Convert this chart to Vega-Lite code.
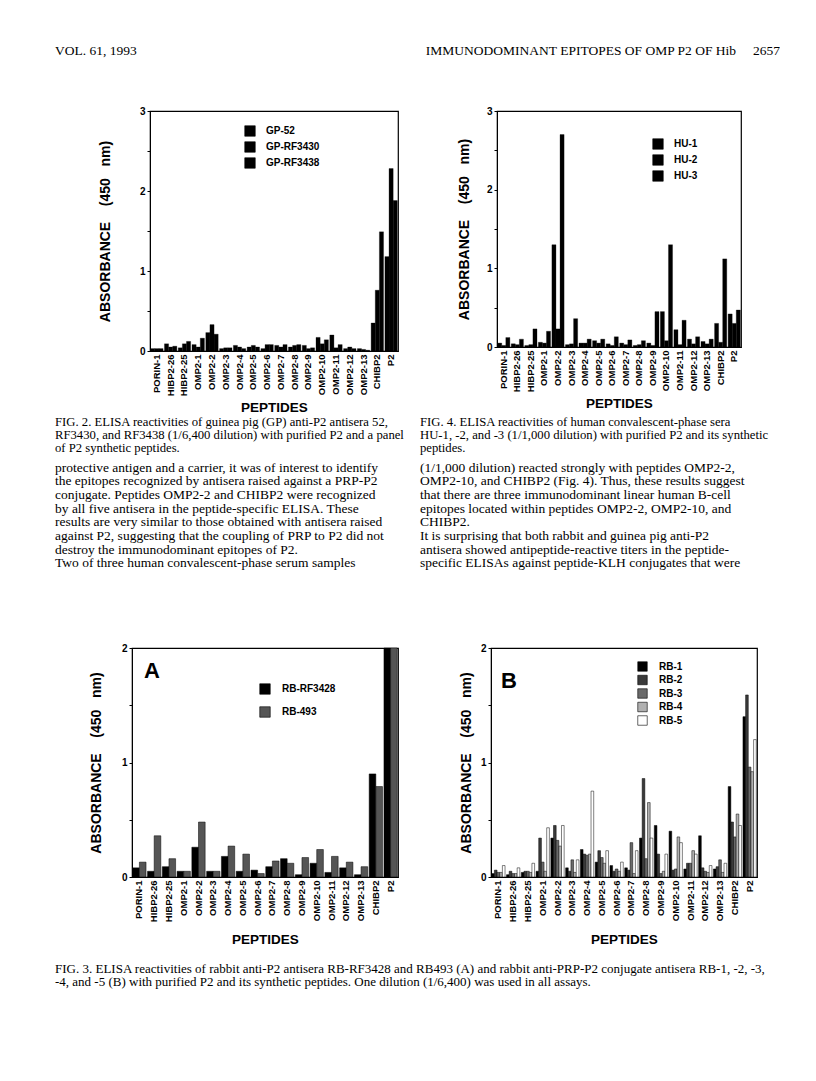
{
"$schema": "https://vega.github.io/schema/vega-lite/v6.json",
"padding": {"left": 55, "top": 43, "right": 0, "bottom": 0},
"background": "white",
"config": {
  "view": {"stroke": null},
  "font": "Liberation Sans",
  "axis": {"labelFont": "Liberation Sans", "titleFont": "Liberation Sans", "labelFontWeight": "bold", "titleFontWeight": "bold", "labelColor": "black", "titleColor": "black", "domainColor": "black", "tickColor": "black", "grid": false, "labelOverlap": false},
  "legend": {"labelFont": "Liberation Sans", "labelFontWeight": "bold", "labelColor": "black", "labelFontSize": 10, "title": null, "symbolType": "square", "symbolStrokeColor": "black", "symbolStrokeWidth": 0.6, "padding": 0},
  "title": {"font": "Liberation Serif", "fontWeight": "normal", "color": "black", "anchor": "start", "frame": "group", "offset": 0}
},
"datasets": {
  "fig2": [
    {"p":"PORIN-1","s":"GP-52","v":0.03},{"p":"PORIN-1","s":"GP-RF3430","v":0.03},{"p":"PORIN-1","s":"GP-RF3438","v":0.03},
    {"p":"HIBP2-26","s":"GP-52","v":0.09},{"p":"HIBP2-26","s":"GP-RF3430","v":0.05},{"p":"HIBP2-26","s":"GP-RF3438","v":0.06},
    {"p":"HIBP2-25","s":"GP-52","v":0.04},{"p":"HIBP2-25","s":"GP-RF3430","v":0.09},{"p":"HIBP2-25","s":"GP-RF3438","v":0.12},
    {"p":"OMP2-1","s":"GP-52","v":0.08},{"p":"OMP2-1","s":"GP-RF3430","v":0.05},{"p":"OMP2-1","s":"GP-RF3438","v":0.16},
    {"p":"OMP2-2","s":"GP-52","v":0.23},{"p":"OMP2-2","s":"GP-RF3430","v":0.33},{"p":"OMP2-2","s":"GP-RF3438","v":0.21},
    {"p":"OMP2-3","s":"GP-52","v":0.03},{"p":"OMP2-3","s":"GP-RF3430","v":0.04},{"p":"OMP2-3","s":"GP-RF3438","v":0.04},
    {"p":"OMP2-4","s":"GP-52","v":0.07},{"p":"OMP2-4","s":"GP-RF3430","v":0.05},{"p":"OMP2-4","s":"GP-RF3438","v":0.03},
    {"p":"OMP2-5","s":"GP-52","v":0.05},{"p":"OMP2-5","s":"GP-RF3430","v":0.07},{"p":"OMP2-5","s":"GP-RF3438","v":0.05},
    {"p":"OMP2-6","s":"GP-52","v":0.03},{"p":"OMP2-6","s":"GP-RF3430","v":0.08},{"p":"OMP2-6","s":"GP-RF3438","v":0.08},
    {"p":"OMP2-7","s":"GP-52","v":0.07},{"p":"OMP2-7","s":"GP-RF3430","v":0.05},{"p":"OMP2-7","s":"GP-RF3438","v":0.08},
    {"p":"OMP2-8","s":"GP-52","v":0.05},{"p":"OMP2-8","s":"GP-RF3430","v":0.07},{"p":"OMP2-8","s":"GP-RF3438","v":0.08},
    {"p":"OMP2-9","s":"GP-52","v":0.07},{"p":"OMP2-9","s":"GP-RF3430","v":0.03},{"p":"OMP2-9","s":"GP-RF3438","v":0.04},
    {"p":"OMP2-10","s":"GP-52","v":0.17},{"p":"OMP2-10","s":"GP-RF3430","v":0.09},{"p":"OMP2-10","s":"GP-RF3438","v":0.14},
    {"p":"OMP2-11","s":"GP-52","v":0.20},{"p":"OMP2-11","s":"GP-RF3430","v":0.04},{"p":"OMP2-11","s":"GP-RF3438","v":0.08},
    {"p":"OMP2-12","s":"GP-52","v":0.03},{"p":"OMP2-12","s":"GP-RF3430","v":0.05},{"p":"OMP2-12","s":"GP-RF3438","v":0.03},
    {"p":"OMP2-13","s":"GP-52","v":0.03},{"p":"OMP2-13","s":"GP-RF3430","v":0.02},{"p":"OMP2-13","s":"GP-RF3438","v":0.01},
    {"p":"CHIBP2","s":"GP-52","v":0.35},{"p":"CHIBP2","s":"GP-RF3430","v":0.76},{"p":"CHIBP2","s":"GP-RF3438","v":1.49},
    {"p":"P2","s":"GP-52","v":1.18},{"p":"P2","s":"GP-RF3430","v":2.28},{"p":"P2","s":"GP-RF3438","v":1.88}
  ],
  "fig4": [
    {"p":"PORIN-1","s":"HU-1","v":0.05},{"p":"PORIN-1","s":"HU-2","v":0.02},{"p":"PORIN-1","s":"HU-3","v":0.12},
    {"p":"HIBP2-26","s":"HU-1","v":0.04},{"p":"HIBP2-26","s":"HU-2","v":0.03},{"p":"HIBP2-26","s":"HU-3","v":0.10},
    {"p":"HIBP2-25","s":"HU-1","v":0.02},{"p":"HIBP2-25","s":"HU-2","v":0.03},{"p":"HIBP2-25","s":"HU-3","v":0.23},
    {"p":"OMP2-1","s":"HU-1","v":0.06},{"p":"OMP2-1","s":"HU-2","v":0.05},{"p":"OMP2-1","s":"HU-3","v":0.20},
    {"p":"OMP2-2","s":"HU-1","v":1.30},{"p":"OMP2-2","s":"HU-2","v":0.23},{"p":"OMP2-2","s":"HU-3","v":2.70},
    {"p":"OMP2-3","s":"HU-1","v":0.03},{"p":"OMP2-3","s":"HU-2","v":0.04},{"p":"OMP2-3","s":"HU-3","v":0.36},
    {"p":"OMP2-4","s":"HU-1","v":0.05},{"p":"OMP2-4","s":"HU-2","v":0.05},{"p":"OMP2-4","s":"HU-3","v":0.10},
    {"p":"OMP2-5","s":"HU-1","v":0.08},{"p":"OMP2-5","s":"HU-2","v":0.05},{"p":"OMP2-5","s":"HU-3","v":0.10},
    {"p":"OMP2-6","s":"HU-1","v":0.04},{"p":"OMP2-6","s":"HU-2","v":0.02},{"p":"OMP2-6","s":"HU-3","v":0.13},
    {"p":"OMP2-7","s":"HU-1","v":0.05},{"p":"OMP2-7","s":"HU-2","v":0.03},{"p":"OMP2-7","s":"HU-3","v":0.09},
    {"p":"OMP2-8","s":"HU-1","v":0.02},{"p":"OMP2-8","s":"HU-2","v":0.03},{"p":"OMP2-8","s":"HU-3","v":0.08},
    {"p":"OMP2-9","s":"HU-1","v":0.05},{"p":"OMP2-9","s":"HU-2","v":0.02},{"p":"OMP2-9","s":"HU-3","v":0.45},
    {"p":"OMP2-10","s":"HU-1","v":0.45},{"p":"OMP2-10","s":"HU-2","v":0.08},{"p":"OMP2-10","s":"HU-3","v":1.30},
    {"p":"OMP2-11","s":"HU-1","v":0.22},{"p":"OMP2-11","s":"HU-2","v":0.03},{"p":"OMP2-11","s":"HU-3","v":0.34},
    {"p":"OMP2-12","s":"HU-1","v":0.10},{"p":"OMP2-12","s":"HU-2","v":0.04},{"p":"OMP2-12","s":"HU-3","v":0.13},
    {"p":"OMP2-13","s":"HU-1","v":0.07},{"p":"OMP2-13","s":"HU-2","v":0.04},{"p":"OMP2-13","s":"HU-3","v":0.10},
    {"p":"CHIBP2","s":"HU-1","v":0.30},{"p":"CHIBP2","s":"HU-2","v":0.06},{"p":"CHIBP2","s":"HU-3","v":1.12},
    {"p":"P2","s":"HU-1","v":0.42},{"p":"P2","s":"HU-2","v":0.30},{"p":"P2","s":"HU-3","v":0.47}
  ],
  "fig3a": [
    {"p":"PORIN-1","s":"RB-RF3428","v":0.08},{"p":"PORIN-1","s":"RB-493","v":0.13},
    {"p":"HIBP2-26","s":"RB-RF3428","v":0.05},{"p":"HIBP2-26","s":"RB-493","v":0.36},
    {"p":"HIBP2-25","s":"RB-RF3428","v":0.09},{"p":"HIBP2-25","s":"RB-493","v":0.16},
    {"p":"OMP2-1","s":"RB-RF3428","v":0.05},{"p":"OMP2-1","s":"RB-493","v":0.05},
    {"p":"OMP2-2","s":"RB-RF3428","v":0.26},{"p":"OMP2-2","s":"RB-493","v":0.48},
    {"p":"OMP2-3","s":"RB-RF3428","v":0.05},{"p":"OMP2-3","s":"RB-493","v":0.05},
    {"p":"OMP2-4","s":"RB-RF3428","v":0.18},{"p":"OMP2-4","s":"RB-493","v":0.27},
    {"p":"OMP2-5","s":"RB-RF3428","v":0.05},{"p":"OMP2-5","s":"RB-493","v":0.20},
    {"p":"OMP2-6","s":"RB-RF3428","v":0.06},{"p":"OMP2-6","s":"RB-493","v":0.03},
    {"p":"OMP2-7","s":"RB-RF3428","v":0.09},{"p":"OMP2-7","s":"RB-493","v":0.14},
    {"p":"OMP2-8","s":"RB-RF3428","v":0.16},{"p":"OMP2-8","s":"RB-493","v":0.12},
    {"p":"OMP2-9","s":"RB-RF3428","v":0.02},{"p":"OMP2-9","s":"RB-493","v":0.17},
    {"p":"OMP2-10","s":"RB-RF3428","v":0.12},{"p":"OMP2-10","s":"RB-493","v":0.24},
    {"p":"OMP2-11","s":"RB-RF3428","v":0.04},{"p":"OMP2-11","s":"RB-493","v":0.18},
    {"p":"OMP2-12","s":"RB-RF3428","v":0.08},{"p":"OMP2-12","s":"RB-493","v":0.13},
    {"p":"OMP2-13","s":"RB-RF3428","v":0.02},{"p":"OMP2-13","s":"RB-493","v":0.09},
    {"p":"CHIBP2","s":"RB-RF3428","v":0.90},{"p":"CHIBP2","s":"RB-493","v":0.79},
    {"p":"P2","s":"RB-RF3428","v":2.2},{"p":"P2","s":"RB-493","v":2.2}
  ],
  "fig3b": [
    {"p":"PORIN-1","s":"RB-1","v":0.03},{"p":"PORIN-1","s":"RB-2","v":0.06},{"p":"PORIN-1","s":"RB-3","v":0.04},{"p":"PORIN-1","s":"RB-4","v":0.04},{"p":"PORIN-1","s":"RB-5","v":0.10},
    {"p":"HIBP2-26","s":"RB-1","v":0.02},{"p":"HIBP2-26","s":"RB-2","v":0.05},{"p":"HIBP2-26","s":"RB-3","v":0.03},{"p":"HIBP2-26","s":"RB-4","v":0.03},{"p":"HIBP2-26","s":"RB-5","v":0.08},
    {"p":"HIBP2-25","s":"RB-1","v":0.04},{"p":"HIBP2-25","s":"RB-2","v":0.05},{"p":"HIBP2-25","s":"RB-3","v":0.05},{"p":"HIBP2-25","s":"RB-4","v":0.04},{"p":"HIBP2-25","s":"RB-5","v":0.12},
    {"p":"OMP2-1","s":"RB-1","v":0.05},{"p":"OMP2-1","s":"RB-2","v":0.34},{"p":"OMP2-1","s":"RB-3","v":0.13},{"p":"OMP2-1","s":"RB-4","v":0.05},{"p":"OMP2-1","s":"RB-5","v":0.43},
    {"p":"OMP2-2","s":"RB-1","v":0.34},{"p":"OMP2-2","s":"RB-2","v":0.45},{"p":"OMP2-2","s":"RB-3","v":0.32},{"p":"OMP2-2","s":"RB-4","v":0.27},{"p":"OMP2-2","s":"RB-5","v":0.45},
    {"p":"OMP2-3","s":"RB-1","v":0.08},{"p":"OMP2-3","s":"RB-2","v":0.05},{"p":"OMP2-3","s":"RB-3","v":0.15},{"p":"OMP2-3","s":"RB-4","v":0.04},{"p":"OMP2-3","s":"RB-5","v":0.15},
    {"p":"OMP2-4","s":"RB-1","v":0.24},{"p":"OMP2-4","s":"RB-2","v":0.20},{"p":"OMP2-4","s":"RB-3","v":0.19},{"p":"OMP2-4","s":"RB-4","v":0.20},{"p":"OMP2-4","s":"RB-5","v":0.75},
    {"p":"OMP2-5","s":"RB-1","v":0.13},{"p":"OMP2-5","s":"RB-2","v":0.23},{"p":"OMP2-5","s":"RB-3","v":0.17},{"p":"OMP2-5","s":"RB-4","v":0.12},{"p":"OMP2-5","s":"RB-5","v":0.23},
    {"p":"OMP2-6","s":"RB-1","v":0.10},{"p":"OMP2-6","s":"RB-2","v":0.05},{"p":"OMP2-6","s":"RB-3","v":0.07},{"p":"OMP2-6","s":"RB-4","v":0.05},{"p":"OMP2-6","s":"RB-5","v":0.13},
    {"p":"OMP2-7","s":"RB-1","v":0.08},{"p":"OMP2-7","s":"RB-2","v":0.06},{"p":"OMP2-7","s":"RB-3","v":0.30},{"p":"OMP2-7","s":"RB-4","v":0.03},{"p":"OMP2-7","s":"RB-5","v":0.23},
    {"p":"OMP2-8","s":"RB-1","v":0.34},{"p":"OMP2-8","s":"RB-2","v":0.86},{"p":"OMP2-8","s":"RB-3","v":0.16},{"p":"OMP2-8","s":"RB-4","v":0.65},{"p":"OMP2-8","s":"RB-5","v":0.34},
    {"p":"OMP2-9","s":"RB-1","v":0.45},{"p":"OMP2-9","s":"RB-2","v":0.20},{"p":"OMP2-9","s":"RB-3","v":0.03},{"p":"OMP2-9","s":"RB-4","v":0.05},{"p":"OMP2-9","s":"RB-5","v":0.20},
    {"p":"OMP2-10","s":"RB-1","v":0.40},{"p":"OMP2-10","s":"RB-2","v":0.06},{"p":"OMP2-10","s":"RB-3","v":0.07},{"p":"OMP2-10","s":"RB-4","v":0.35},{"p":"OMP2-10","s":"RB-5","v":0.30},
    {"p":"OMP2-11","s":"RB-1","v":0.07},{"p":"OMP2-11","s":"RB-2","v":0.12},{"p":"OMP2-11","s":"RB-3","v":0.12},{"p":"OMP2-11","s":"RB-4","v":0.23},{"p":"OMP2-11","s":"RB-5","v":0.20},
    {"p":"OMP2-12","s":"RB-1","v":0.36},{"p":"OMP2-12","s":"RB-2","v":0.08},{"p":"OMP2-12","s":"RB-3","v":0.05},{"p":"OMP2-12","s":"RB-4","v":0.04},{"p":"OMP2-12","s":"RB-5","v":0.10},
    {"p":"OMP2-13","s":"RB-1","v":0.07},{"p":"OMP2-13","s":"RB-2","v":0.09},{"p":"OMP2-13","s":"RB-3","v":0.15},{"p":"OMP2-13","s":"RB-4","v":0.04},{"p":"OMP2-13","s":"RB-5","v":0.12},
    {"p":"CHIBP2","s":"RB-1","v":0.79},{"p":"CHIBP2","s":"RB-2","v":0.48},{"p":"CHIBP2","s":"RB-3","v":0.35},{"p":"CHIBP2","s":"RB-4","v":0.55},{"p":"CHIBP2","s":"RB-5","v":0.45},
    {"p":"P2","s":"RB-1","v":1.40},{"p":"P2","s":"RB-2","v":1.59},{"p":"P2","s":"RB-3","v":0.96},{"p":"P2","s":"RB-4","v":0.92},{"p":"P2","s":"RB-5","v":1.20}
  ]
},
"resolve": {"scale": {"x": "independent", "y": "independent", "xOffset": "independent", "color": "independent"}, "legend": {"color": "independent"}},
"spacing": 0,
"vconcat": [
  {
    "hconcat": [
      {"width": 365, "height": 44, "data": {"values": [{}]}, "mark": {"type": "text", "text": ""},
       "title": {"text": "VOL. 61, 1993", "fontSize": 13.5, "anchor": "start"}},
      {"width": 360, "height": 44, "data": {"values": [{}]}, "mark": {"type": "text", "text": ""},
       "title": {"text": "IMMUNODOMINANT EPITOPES OF OMP P2 OF Hib\u00a0\u00a0\u00a0\u00a0\u00a02657", "fontSize": 13.5, "anchor": "end"}}
    ],
    "spacing": 0
  },
  {
    "resolve": {"scale": {"x": "independent", "y": "independent", "xOffset": "independent", "color": "independent"}, "legend": {"color": "independent"}},
    "spacing": 0,
    "hconcat": [
      {"width": 42, "height": 10, "data": {"values": [{}]}, "mark": {"type": "text", "text": ""}},
      {
        "width": 248, "height": 240,
        "view": {"stroke": "black", "strokeWidth": 1.2},
        "data": {"name": "fig2"},
        "mark": {"type": "bar", "stroke": "black", "strokeWidth": 0.3},
        "encoding": {
          "x": {"field": "p", "type": "nominal",
                "sort": ["PORIN-1","HIBP2-26","HIBP2-25","OMP2-1","OMP2-2","OMP2-3","OMP2-4","OMP2-5","OMP2-6","OMP2-7","OMP2-8","OMP2-9","OMP2-10","OMP2-11","OMP2-12","OMP2-13","CHIBP2","P2"],
                "scale": {"paddingInner": 0.1, "paddingOuter": 0.05},
                "axis": {"title": "PEPTIDES", "labelAngle": -90, "ticks": false, "labelPadding": 3, "titlePadding": 5, "labelFontSize": 9.5, "titleFontSize": 13.5}},
          "xOffset": {"field": "s", "type": "nominal", "sort": ["GP-52","GP-RF3430","GP-RF3438"]},
          "y": {"field": "v", "type": "quantitative", "scale": {"domain": [0, 3], "nice": false},
                "axis": {"values": [0,0.5,1,1.5,2,2.5,3], "labelExpr": "datum.value % 1 == 0 ? '' + datum.value : ''",
                         "title": "ABSORBANCE\u00a0\u00a0\u00a0\u00a0(450\u00a0\u00a0\u00a0nm)", "titleFontSize": 14, "titlePadding": 27,
                         "labelFontSize": 10, "tickSize": 3, "labelPadding": 2}},
          "color": {"field": "s", "type": "nominal", "sort": ["GP-52","GP-RF3430","GP-RF3438"],
                    "scale": {"domain": ["GP-52","GP-RF3430","GP-RF3438"], "range": ["#000000","#000000","#000000"]},
                    "legend": {"orient": "none", "legendX": 94, "legendY": 14, "symbolSize": 110, "labelOffset": 10, "rowPadding": 2}}
        }
      },
      {"width": 57, "height": 10, "data": {"values": [{}]}, "mark": {"type": "text", "text": ""}},
      {
        "width": 244, "height": 236,
        "view": {"stroke": "black", "strokeWidth": 1.2},
        "data": {"name": "fig4"},
        "mark": {"type": "bar", "stroke": "black", "strokeWidth": 0.3},
        "encoding": {
          "x": {"field": "p", "type": "nominal",
                "sort": ["PORIN-1","HIBP2-26","HIBP2-25","OMP2-1","OMP2-2","OMP2-3","OMP2-4","OMP2-5","OMP2-6","OMP2-7","OMP2-8","OMP2-9","OMP2-10","OMP2-11","OMP2-12","OMP2-13","CHIBP2","P2"],
                "scale": {"paddingInner": 0.1, "paddingOuter": 0.05},
                "axis": {"title": "PEPTIDES", "labelAngle": -90, "ticks": false, "labelPadding": 3, "titlePadding": 5, "labelFontSize": 9.5, "titleFontSize": 13.5}},
          "xOffset": {"field": "s", "type": "nominal", "sort": ["HU-1","HU-2","HU-3"]},
          "y": {"field": "v", "type": "quantitative", "scale": {"domain": [0, 3], "nice": false},
                "axis": {"values": [0,0.5,1,1.5,2,2.5,3], "labelExpr": "datum.value % 1 == 0 ? '' + datum.value : ''",
                         "title": "ABSORBANCE\u00a0\u00a0\u00a0\u00a0(450\u00a0\u00a0\u00a0nm)", "titleFontSize": 14, "titlePadding": 15,
                         "labelFontSize": 10, "tickSize": 3, "labelPadding": 2}},
          "color": {"field": "s", "type": "nominal", "sort": ["HU-1","HU-2","HU-3"],
                    "scale": {"domain": ["HU-1","HU-2","HU-3"], "range": ["#000000","#000000","#000000"]},
                    "legend": {"orient": "none", "legendX": 155, "legendY": 27, "symbolSize": 110, "labelOffset": 10, "rowPadding": 2}}
        }
      }
    ]
  },
  {
    "spacing": -10,
    "vconcat": [
      {
        "hconcat": [
          {"width": 365, "height": 1, "data": {"values": [{}]}, "mark": {"type": "text", "text": ""},
           "title": {"text": ["\u00a0\u00a0\u00a0\u00a0\u00a0FIG. 2. ELISA reactivities of guinea pig (GP) anti-P2 antisera 52,", "RF3430, and RF3438 (1/6,400 dilution) with purified P2 and a panel", "of P2 synthetic peptides."], "fontSize": 12.7, "lineHeight": 13}},
          {"width": 360, "height": 1, "data": {"values": [{}]}, "mark": {"type": "text", "text": ""},
           "title": {"text": ["\u00a0\u00a0\u00a0\u00a0\u00a0FIG. 4. ELISA reactivities of human convalescent-phase sera", "HU-1, -2, and -3 (1/1,000 dilution) with purified P2 and its synthetic", "peptides."], "fontSize": 12.7, "lineHeight": 13}}
        ],
        "spacing": 0
      },
      {
        "hconcat": [
          {"width": 365, "height": 68, "data": {"values": [{}]}, "mark": {"type": "text", "text": ""},
           "title": {"text": ["protective antigen and a carrier, it was of interest to identify", "the epitopes recognized by antisera raised against a PRP-P2", "conjugate. Peptides OMP2-2 and CHIBP2 were recognized", "by all five antisera in the peptide-specific ELISA. These", "results are very similar to those obtained with antisera raised", "against P2, suggesting that the coupling of PRP to P2 did not", "destroy the immunodominant epitopes of P2.", "\u00a0\u00a0\u00a0Two of three human convalescent-phase serum samples"], "fontSize": 13.5, "lineHeight": 13.7}},
          {"width": 360, "height": 68, "data": {"values": [{}]}, "mark": {"type": "text", "text": ""},
           "title": {"text": ["(1/1,000 dilution) reacted strongly with peptides OMP2-2,", "OMP2-10, and CHIBP2 (Fig. 4). Thus, these results suggest", "that there are three immunodominant linear human B-cell", "epitopes located within peptides OMP2-2, OMP2-10, and", "CHIBP2.", "\u00a0\u00a0\u00a0It is surprising that both rabbit and guinea pig anti-P2", "antisera showed antipeptide-reactive titers in the peptide-", "specific ELISAs against peptide-KLH conjugates that were"], "fontSize": 13.5, "lineHeight": 13.7}}
        ],
        "spacing": 0
      }
    ]
  },
  {
    "resolve": {"scale": {"x": "independent", "y": "independent", "xOffset": "independent", "color": "independent"}, "legend": {"color": "independent"}},
    "spacing": 0,
    "hconcat": [
      {"width": 33, "height": 10, "data": {"values": [{}]}, "mark": {"type": "text", "text": ""}},
      {
        "width": 266, "height": 229,
        "view": {"stroke": "black", "strokeWidth": 1.2},
        "title": {"text": "A", "orient": "top", "anchor": "start", "frame": "group", "offset": -29, "dy": 28, "dx": 12, "fontSize": 22, "fontWeight": "bold", "font": "Liberation Sans", "baseline": "alphabetic"},
        "data": {"name": "fig3a"},
        "mark": {"type": "bar", "stroke": "black", "strokeWidth": 0.5},
        "encoding": {
          "x": {"field": "p", "type": "nominal",
                "sort": ["PORIN-1","HIBP2-26","HIBP2-25","OMP2-1","OMP2-2","OMP2-3","OMP2-4","OMP2-5","OMP2-6","OMP2-7","OMP2-8","OMP2-9","OMP2-10","OMP2-11","OMP2-12","OMP2-13","CHIBP2","P2"],
                "scale": {"paddingInner": 0.1, "paddingOuter": 0.05},
                "axis": {"title": "PEPTIDES", "labelAngle": -90, "ticks": false, "labelPadding": 3, "titlePadding": 11, "labelFontSize": 9.5, "titleFontSize": 13.5}},
          "xOffset": {"field": "s", "type": "nominal", "sort": ["RB-RF3428","RB-493"]},
          "y": {"field": "v", "type": "quantitative", "scale": {"domain": [0, 2], "nice": false, "clamp": true},
                "axis": {"values": [0,0.5,1,1.5,2], "labelExpr": "datum.value % 1 == 0 ? '' + datum.value : ''",
                         "title": "ABSORBANCE\u00a0\u00a0\u00a0\u00a0(450\u00a0\u00a0\u00a0nm)", "titleFontSize": 14, "titlePadding": 18,
                         "labelFontSize": 10, "tickSize": 3, "labelPadding": 2}},
          "color": {"field": "s", "type": "nominal", "sort": ["RB-RF3428","RB-493"],
                    "scale": {"domain": ["RB-RF3428","RB-493"], "range": ["#000000","#555555"]},
                    "legend": {"orient": "none", "legendX": 127, "legendY": 35, "symbolSize": 110, "labelOffset": 11, "rowPadding": 9}}
        }
      },
      {"width": 59, "height": 10, "data": {"values": [{}]}, "mark": {"type": "text", "text": ""}},
      {
        "width": 266, "height": 229,
        "view": {"stroke": "black", "strokeWidth": 1.2},
        "title": {"text": "B", "orient": "top", "anchor": "start", "frame": "group", "offset": -37, "dy": 30, "dx": 10, "fontSize": 22, "fontWeight": "bold", "font": "Liberation Sans", "baseline": "alphabetic"},
        "data": {"name": "fig3b"},
        "mark": {"type": "bar", "stroke": "black", "strokeWidth": 0.5},
        "encoding": {
          "x": {"field": "p", "type": "nominal",
                "sort": ["PORIN-1","HIBP2-26","HIBP2-25","OMP2-1","OMP2-2","OMP2-3","OMP2-4","OMP2-5","OMP2-6","OMP2-7","OMP2-8","OMP2-9","OMP2-10","OMP2-11","OMP2-12","OMP2-13","CHIBP2","P2"],
                "scale": {"paddingInner": 0.1, "paddingOuter": 0.05},
                "axis": {"title": "PEPTIDES", "labelAngle": -90, "ticks": false, "labelPadding": 3, "titlePadding": 11, "labelFontSize": 9.5, "titleFontSize": 13.5}},
          "xOffset": {"field": "s", "type": "nominal", "sort": ["RB-1","RB-2","RB-3","RB-4","RB-5"]},
          "y": {"field": "v", "type": "quantitative", "scale": {"domain": [0, 2], "nice": false, "clamp": true},
                "axis": {"values": [0,0.5,1,1.5,2], "labelExpr": "datum.value % 1 == 0 ? '' + datum.value : ''",
                         "title": "ABSORBANCE\u00a0\u00a0\u00a0\u00a0(450\u00a0\u00a0\u00a0nm)", "titleFontSize": 14, "titlePadding": 7,
                         "labelFontSize": 10, "tickSize": 3, "labelPadding": 2}},
          "color": {"field": "s", "type": "nominal", "sort": ["RB-1","RB-2","RB-3","RB-4","RB-5"],
                    "scale": {"domain": ["RB-1","RB-2","RB-3","RB-4","RB-5"], "range": ["#000000","#3a3a3a","#6a6a6a","#b0b0b0","#ffffff"]},
                    "legend": {"orient": "none", "legendX": 146, "legendY": 13, "symbolSize": 90, "labelOffset": 11, "rowPadding": 0.5}}
        }
      }
    ]
  },
  {"width": 725, "height": 3, "data": {"values": [{}]}, "mark": {"type": "text", "text": ""},
   "title": {"orient": "bottom", "text": ["\u00a0\u00a0\u00a0\u00a0\u00a0\u00a0\u00a0FIG. 3. ELISA reactivities of rabbit anti-P2 antisera RB-RF3428 and RB493 (A) and rabbit anti-PRP-P2 conjugate antisera RB-1, -2, -3,", "-4, and -5 (B) with purified P2 and its synthetic peptides. One dilution (1/6,400) was used in all assays."], "fontSize": 13, "lineHeight": 13}}
]
}
